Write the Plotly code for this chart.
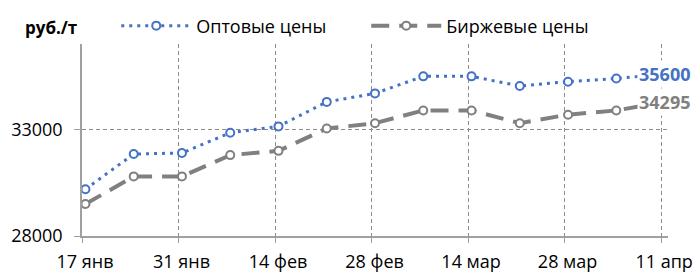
import plotly.graph_objects as go
import pandas as pd

dates = ["2022-01-17", "2022-01-24", "2022-01-31", "2022-02-07", "2022-02-14",
         "2022-02-21", "2022-02-28", "2022-03-07", "2022-03-14", "2022-03-21",
         "2022-03-28", "2022-04-04", "2022-04-11"]
wholesale = [30200, 31850, 31900, 32850, 33150, 34300, 34700, 35500, 35500,
             35050, 35250, 35400, 35600]
exchange = [29500, 30800, 30800, 31800, 32000, 33050, 33300, 33900, 33900,
            33300, 33700, 33900, 34295]
tick_dates = ["2022-01-17", "2022-01-31", "2022-02-14", "2022-02-28",
              "2022-03-14", "2022-03-28", "2022-04-11"]
tick_labels = ["17 янв", "31 янв", "14 фев", "28 фев", "14 мар", "28 мар", "11 апр"]
y_ticks = [28000, 33000]
y_tick_labels = ["28000", "33000"]
series_names = ["Оптовые цены", "Биржевые цены"]
unit_label = "руб./т"

BLUE = "#4472C4"
GRAY = "#808080"
FONT = "Open Sans"

# points sit in the middle of their day slot (date axis)
x = pd.to_datetime(dates) + pd.Timedelta(hours=12)

fig = go.Figure()
fig.add_trace(go.Scatter(
    x=x, y=wholesale, name=series_names[0], mode="lines+markers",
    line=dict(color=BLUE, width=3, dash="3px,5px"),
    marker=dict(symbol="circle", size=8, color="white",
                line=dict(color=BLUE, width=2)),
))
fig.add_trace(go.Scatter(
    x=x, y=exchange, name=series_names[1], mode="lines+markers",
    line=dict(color=GRAY, width=4, dash="18px,10px"),
    marker=dict(symbol="circle", size=8, color="white",
                line=dict(color=GRAY, width=2)),
))

fig.add_annotation(x=x[-1], y=wholesale[-1], text=f"<b>{wholesale[-1]}</b>",
                   showarrow=False, bgcolor="white",
                   font=dict(family=FONT, size=18, color=BLUE))
fig.add_annotation(x=x[-1], y=exchange[-1], text=f"<b>{exchange[-1]}</b>",
                   showarrow=False, bgcolor="white",
                   font=dict(family=FONT, size=18, color=GRAY))
fig.add_annotation(xref="paper", yref="paper", x=-0.1, y=1.09,
                   xanchor="left", yanchor="middle",
                   text=f"<b>{unit_label}</b>", showarrow=False,
                   font=dict(family=FONT, size=17, color="black"))

grid_color = "#8C8C8C"
fig.update_xaxes(
    type="date", automargin=False,
    range=["2022-01-17", "2022-04-12"],
    tickvals=pd.to_datetime(tick_dates), ticktext=tick_labels,
    showgrid=True, gridcolor=grid_color, griddash="4px,3px", gridwidth=1,
    showline=True, linecolor="#A0A0A0", linewidth=1.5,
    ticks="outside", ticklen=5, tickcolor="#A0A0A0",
    ticklabelshift=3, ticklabelstandoff=4,
    tickfont=dict(family=FONT, size=18, color="black"),
    zeroline=False,
)
fig.update_yaxes(
    range=[28000, 37000], automargin=False,
    tickvals=y_ticks, ticktext=y_tick_labels,
    showgrid=True, gridcolor=grid_color, griddash="4px,3px", gridwidth=1,
    showline=True, linecolor="#A0A0A0", linewidth=1.5,
    ticks="outside", ticklen=6, tickcolor="#A0A0A0",
    ticklabelstandoff=8,
    tickfont=dict(family=FONT, size=18, color="black"),
    zeroline=False,
)
fig.update_layout(
    width=696, height=273,
    margin=dict(l=82, r=28, t=42, b=37),
    paper_bgcolor="white", plot_bgcolor="white",
    showlegend=True,
    legend=dict(orientation="h", xref="container", yref="container",
                x=0.167, y=0.905, xanchor="left", yanchor="middle",
                itemwidth=70, entrywidth=165,
                font=dict(family=FONT, size=18, color="black"),
                bgcolor="rgba(0,0,0,0)"),
)
fig.write_html("out.html",
               config={"displayModeBar": False},
               post_script="document.body.style.margin='0';"
                           "document.body.style.overflow='hidden';")
